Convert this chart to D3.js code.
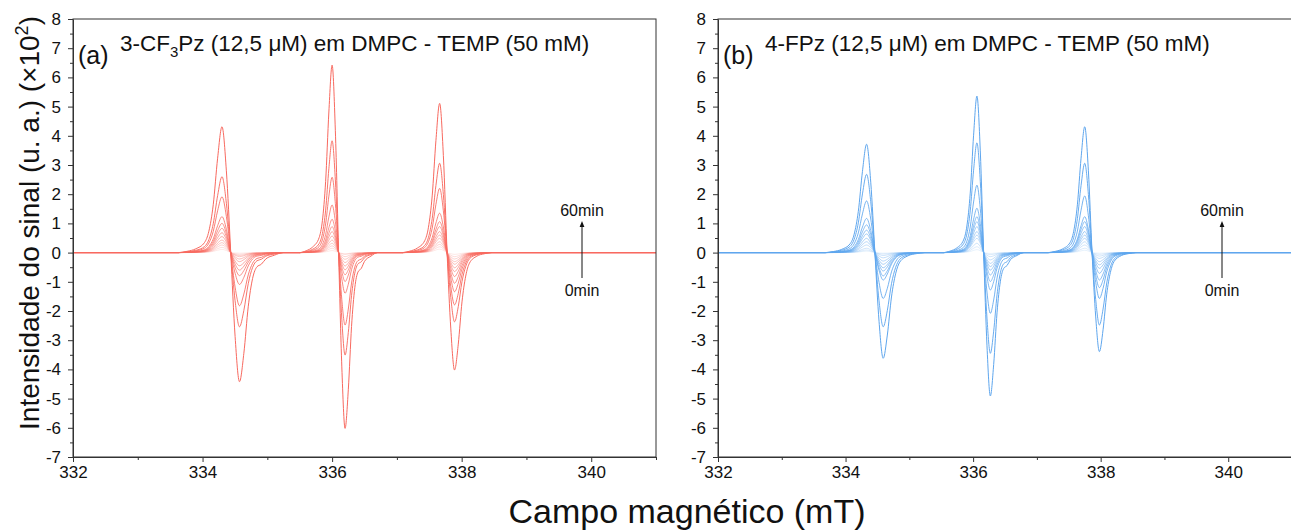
<!DOCTYPE html>
<html>
  <head>
    <meta charset="utf-8">
    <style>
      body { margin: 0; background: #fff; }
      text { font-family: "Liberation Sans", Arial, sans-serif; }
    </style>
  </head>
  <body>
    <script src="https://d3js.org/d3.v7.min.js" charset="utf-8"></script>
    <script>
      // acquisition times (min), one spectrum each
      var times = [0, 5, 10, 15, 20, 25, 30, 35, 40, 45, 50, 55, 60];
      var fieldTicks = [332, 334, 336, 338, 340];
      var fieldMinor = [333, 335, 337, 339, 341];
      var yTicks = [-7, -6, -5, -4, -3, -2, -1, 0, 1, 2, 3, 4, 5, 6, 7, 8];

      // normalized line shapes: [offset / half-width, value]
      var shapeShoulder = [[-6, 0], [-5, 0.01], [-4, 0.03], [-3, 0.08], [-2.5, 0.17], [-2, 0.38],
        [-1.5, 0.75], [-1, 1], [-0.5, 0.65], [0, 0], [0.5, -0.65], [1, -1], [1.5, -0.78],
        [2, -0.42], [2.5, -0.2], [3, -0.11], [3.5, -0.09], [4, -0.05], [5, -0.02], [6, 0]];
      var shapePlain = [[-6, 0], [-5, 0.01], [-4, 0.03], [-3, 0.08], [-2.5, 0.17], [-2, 0.38],
        [-1.5, 0.75], [-1, 1], [-0.5, 0.65], [0, 0], [0.5, -0.65], [1, -1], [1.5, -0.78],
        [2, -0.42], [2.5, -0.2], [3, -0.09], [4, -0.03], [5, -0.01], [6, 0]];

      // (a) 3-CF3Pz : centres (mT), half peak-to-peak widths (mT)
      var centersA = [334.435, 336.10, 337.775];
      var widthsA = [0.135, 0.10, 0.115];
      var posA = [
        [0.11, 0.18, 0.26, 0.34, 0.43, 0.55, 0.68, 0.83, 1.00, 1.23, 1.91, 2.60, 4.31],
        [0.07, 0.15, 0.23, 0.32, 0.43, 0.57, 0.72, 0.89, 1.14, 1.63, 2.58, 3.83, 6.42],
        [0.12, 0.20, 0.28, 0.37, 0.49, 0.60, 0.72, 0.89, 1.06, 1.35, 2.20, 3.06, 5.11]];
      var negA = [
        [0.02, 0.06, 0.10, 0.14, 0.22, 0.31, 0.45, 0.60, 0.79, 1.09, 1.82, 2.54, 4.42],
        [0.04, 0.06, 0.14, 0.23, 0.34, 0.46, 0.59, 0.76, 0.99, 1.39, 2.48, 3.51, 6.02],
        [0.06, 0.14, 0.22, 0.31, 0.40, 0.52, 0.65, 0.82, 1.05, 1.34, 1.79, 2.37, 4.02]];

      // (b) 4-FPz
      var centersB = [334.46, 336.165, 337.865];
      var widthsB = [0.13, 0.105, 0.115];
      var posB = [
        [0.05, 0.09, 0.15, 0.26, 0.37, 0.49, 0.64, 0.77, 0.95, 1.17, 1.77, 2.68, 3.71],
        [0.10, 0.20, 0.32, 0.49, 0.60, 0.72, 0.89, 1.06, 1.23, 1.52, 2.31, 3.76, 5.36],
        [0.08, 0.15, 0.26, 0.37, 0.49, 0.60, 0.72, 0.89, 1.06, 1.23, 1.94, 3.06, 4.31]];
      var negB = [
        [0.02, 0.05, 0.10, 0.18, 0.29, 0.40, 0.52, 0.63, 0.80, 0.94, 1.57, 2.54, 3.62],
        [0.03, 0.07, 0.14, 0.25, 0.37, 0.48, 0.60, 0.77, 0.99, 1.28, 2.08, 3.45, 4.91],
        [0.02, 0.06, 0.12, 0.20, 0.31, 0.42, 0.54, 0.71, 0.94, 1.20, 1.57, 2.48, 3.39]];

      var W = 1291, H = 531;
      var plotTop = 19, plotBottom = 457;

      var svg = d3.select('body').append('svg')
        .attr('width', W).attr('height', H);

      var panels = [
        { x0: 73, x1: 656, color: '#f8695f', centers: centersA, widths: widthsA,
          pos: posA, neg: negA, shapes: [shapeShoulder, shapeShoulder, shapePlain],
          tag: '(a)', arrowX: 582 },
        { x0: 718, x1: 1292, color: '#5ea6ee', centers: centersB, widths: widthsB,
          pos: posB, neg: negB, shapes: [shapePlain, shapeShoulder, shapePlain],
          tag: '(b)', arrowX: 1222 }
      ];

      svg.append('defs').append('marker')
        .attr('id', 'arrow').attr('viewBox', '0 0 10 10')
        .attr('refX', 5).attr('refY', 5)
        .attr('markerWidth', 6).attr('markerHeight', 7)
        .attr('orient', 'auto')
        .append('path').attr('d', 'M0,1 L10,5 L0,9 Z').attr('fill', '#111');

      panels.forEach(function (p, pi) {
        var x = d3.scaleLinear().domain([332, 341]).range([p.x0, p.x1]);
        var y = d3.scaleLinear().domain([-7, 8]).range([plotBottom, plotTop]);
        var g = svg.append('g');

        var line = d3.line()
          .x(function (d) { return x(d[0]); })
          .y(function (d) { return y(d[1]); })
          .curve(d3.curveMonotoneX);

        times.forEach(function (t, i) {
          var pts = [[332, 0]];
          p.centers.forEach(function (c, k) {
            p.shapes[k].forEach(function (s) {
              var amp = s[1] > 0 ? p.pos[k][i] : p.neg[k][i];
              pts.push([c + s[0] * p.widths[k], s[1] * amp]);
            });
          });
          pts.push([341, 0]);
          g.append('path')
            .attr('d', line(pts))
            .attr('fill', 'none')
            .attr('stroke', p.color)
            .attr('stroke-opacity', 0.15 + 0.85 * i / (times.length - 1))
            .attr('stroke-width', 1);
        });

        // frame
        g.append('rect')
          .attr('x', p.x0).attr('y', plotTop)
          .attr('width', p.x1 - p.x0).attr('height', plotBottom - plotTop)
          .attr('fill', 'none').attr('stroke', '#333').attr('stroke-width', 1);

        // y axis
        var ya = g.append('g').attr('transform', 'translate(' + p.x0 + ',0)')
          .call(d3.axisLeft(y).tickValues(yTicks).tickSize(5).tickSizeOuter(0)
            .tickFormat(function (d) { return String(d); }));
        g.append('g').attr('transform', 'translate(' + p.x0 + ',0)')
          .call(d3.axisLeft(y).tickValues(yTicks.slice(0, -1).map(function (d) { return d + 0.5; }))
            .tickSize(3).tickSizeOuter(0).tickFormat(''))
          .select('.domain').remove();

        // x axis
        var xa = g.append('g').attr('transform', 'translate(0,' + plotBottom + ')')
          .call(d3.axisBottom(x).tickValues(fieldTicks).tickSize(5).tickSizeOuter(0)
            .tickFormat(function (d) { return String(d); }));
        g.append('g').attr('transform', 'translate(0,' + plotBottom + ')')
          .call(d3.axisBottom(x).tickValues(fieldMinor).tickSize(3).tickSizeOuter(0).tickFormat(''))
          .select('.domain').remove();

        g.selectAll('.tick line, .domain').attr('stroke', '#333');
        g.selectAll('.tick text')
          .style('font-family', '"Liberation Sans", Arial, sans-serif')
          .style('font-size', '17px').attr('fill', '#111');
        ya.selectAll('.tick text').attr('x', -12);
        xa.selectAll('.tick text').attr('y', 9);

        // panel titles
        g.append('text').attr('x', p.x0 + 5).attr('y', 64)
          .style('font-size', '25px').attr('fill', '#111').text(p.tag);
        var tt = g.append('text').attr('x', p.x0 + 47).attr('y', 51)
          .style('font-size', '22.5px').attr('fill', '#111');
        if (pi === 0) {
          tt.append('tspan').text('3-CF');
          tt.append('tspan').attr('dy', 6).style('font-size', '15px').text('3');
          tt.append('tspan').attr('dy', -6).text('Pz (12,5 \u03bcM) em DMPC - TEMP (50 mM)');
        } else {
          tt.text('4-FPz (12,5 \u03bcM) em DMPC - TEMP (50 mM)');
        }

        // time arrow
        g.append('line')
          .attr('x1', p.arrowX).attr('x2', p.arrowX)
          .attr('y1', 278).attr('y2', 224)
          .attr('stroke', '#111').attr('stroke-width', 1)
          .attr('marker-end', 'url(#arrow)');
        g.append('text').attr('x', p.arrowX).attr('y', 216)
          .attr('text-anchor', 'middle').style('font-size', '16px').attr('fill', '#111')
          .text('60min');
        g.append('text').attr('x', p.arrowX).attr('y', 296)
          .attr('text-anchor', 'middle').style('font-size', '16px').attr('fill', '#111')
          .text('0min');
      });

      // shared axis titles
      var yt = svg.append('text')
        .attr('transform', 'translate(39,223) rotate(-90)')
        .attr('text-anchor', 'middle')
        .style('font-size', '28px').attr('fill', '#111');
      yt.append('tspan').text('Intensidade do sinal (u. a.) (\u00d710');
      yt.append('tspan').attr('dy', -11).style('font-size', '18px').text('2');
      yt.append('tspan').attr('dy', 11).text(')');

      svg.append('text')
        .attr('x', 687).attr('y', 523)
        .attr('text-anchor', 'middle')
        .style('font-size', '34px').attr('fill', '#111')
        .text('Campo magn\u00e9tico (mT)');
    </script>
  </body>
</html>
